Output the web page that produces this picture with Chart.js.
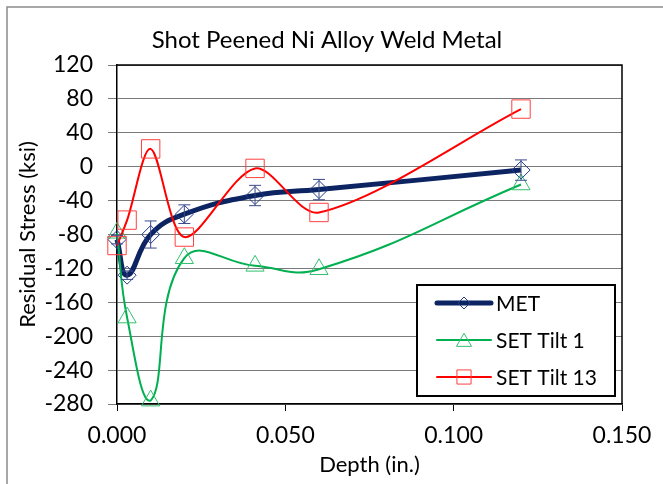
<!DOCTYPE html>
<html>
<head>
<meta charset="utf-8">
<script src="https://cdn.jsdelivr.net/npm/chart.js@4/dist/chart.umd.min.js"></script>
<style>
  html, body { margin: 0; padding: 0; background: #fff; }
  #wrap { position: relative; width: 663px; height: 484px; }
</style>
</head>
<body>
<div id="wrap"><canvas id="stressChart" width="663" height="484"></canvas></div>
<script>
// data
const depth = [0.000, 0.003, 0.010, 0.020, 0.041, 0.060, 0.120];
const met = [-86, -128, -80, -56, -34, -27, -4];
const metErr = [5, 5, 16, 11, 12, 12, 12];
const setTilt1 = [-78, -178, -276, -108, -117, -121, -21];
const setTilt13 = [-93, -63, 21, -83, -2, -54, 68];
const seriesNames = ['MET', 'SET Tilt 1', 'SET Tilt 13'];
const yTicks = [120, 80, 40, 0, -40, -80, -120, -160, -200, -240, -280];
const xTicks = [0.000, 0.050, 0.100, 0.150];

const FONT = 'Lato, "Liberation Sans", sans-serif';

function toPoints(ys) {
    return depth.map((d, i) => ({ x: d, y: ys[i] }));
}

// frame and border of plot area
const framePlugin = {
    id: 'frame',
    beforeDraw(chart) {
        const ctx = chart.ctx;
        ctx.save();
        ctx.strokeStyle = '#8c8c8c';
        ctx.lineWidth = 1.5;
        ctx.beginPath();
        ctx.moveTo(7, 490);
        ctx.lineTo(7, 7);
        ctx.lineTo(670, 7);
        ctx.stroke();
        ctx.restore();
    },
    afterDraw(chart) {
        const a = chart.chartArea;
        const ctx = chart.ctx;
        ctx.save();
        ctx.strokeStyle = '#000';
        ctx.lineWidth = 1.5;
        ctx.beginPath();
        ctx.moveTo(a.left, a.top);
        ctx.lineTo(a.right, a.top);
        ctx.lineTo(a.right, a.bottom);
        ctx.stroke();
        ctx.restore();
    }
};

// chart title, placed left of centre like in the original
const titlePlugin = {
    id: 'titleText',
    afterDraw(chart, args, opts) {
        const ctx = chart.ctx;
        ctx.save();
        ctx.font = '24px ' + FONT;
        ctx.fillStyle = '#000';
        ctx.textAlign = 'center';
        ctx.textBaseline = 'middle';
        ctx.fillText(opts.text, opts.x, opts.y);
        ctx.restore();
    }
};

// y error bars on MET
const errorBarPlugin = {
    id: 'errorBars',
    afterDatasetsDraw(chart) {
        const xs = chart.scales.x, ys = chart.scales.y;
        const ctx = chart.ctx;
        ctx.save();
        ctx.strokeStyle = '#3a4a8c';
        ctx.lineWidth = 1;
        depth.forEach((d, i) => {
            const x = xs.getPixelForValue(d);
            const y1 = ys.getPixelForValue(met[i] + metErr[i]);
            const y2 = ys.getPixelForValue(met[i] - metErr[i]);
            ctx.beginPath();
            ctx.moveTo(x, y1); ctx.lineTo(x, y2);
            ctx.moveTo(x - 6, y1); ctx.lineTo(x + 6, y1);
            ctx.moveTo(x - 6, y2); ctx.lineTo(x + 6, y2);
            ctx.stroke();
        });
        ctx.restore();
    }
};

function drawMarker(ctx, style, x, y, r) {
    ctx.beginPath();
    if (style === 'rectRot') {
        ctx.moveTo(x - r, y); ctx.lineTo(x, y - r); ctx.lineTo(x + r, y); ctx.lineTo(x, y + r);
    } else if (style === 'triangle') {
        ctx.moveTo(x, y - r);
        ctx.lineTo(x + r * 0.866, y + r / 2);
        ctx.lineTo(x - r * 0.866, y + r / 2);
    } else {
        const s = r * Math.SQRT1_2;
        ctx.rect(x - s, y - s, 2 * s, 2 * s);
    }
    ctx.closePath();
    ctx.stroke();
}

// legend box inside the plot area
const legendPlugin = {
    id: 'boxLegend',
    afterDraw(chart, args, opts) {
        const ctx = chart.ctx;
        ctx.save();
        ctx.fillStyle = '#fff';
        ctx.fillRect(opts.x, opts.y, opts.w, opts.h);
        ctx.strokeStyle = '#000';
        ctx.lineWidth = 2;
        ctx.strokeRect(opts.x, opts.y, opts.w, opts.h);
        ctx.font = '21px ' + FONT;
        ctx.textBaseline = 'middle';
        ctx.textAlign = 'left';
        chart.data.datasets.forEach((ds, i) => {
            const y = opts.y + 18 + i * 37;
            const x0 = opts.x + 20;
            ctx.strokeStyle = ds.borderColor;
            ctx.lineWidth = ds.borderWidth;
            ctx.lineCap = 'round';
            ctx.beginPath();
            ctx.moveTo(x0, y); ctx.lineTo(x0 + 54, y);
            ctx.stroke();
            ctx.lineCap = 'butt';
            ctx.fillStyle = '#fff';
            ctx.strokeStyle = ds.pointBorderColor;
            ctx.lineWidth = 1;
            drawMarker(ctx, ds.pointStyle, x0 + 27, y + (ds.pointStyle === 'triangle' ? 2 : 0), opts.markerSize[i]);
            ctx.fillStyle = '#000';
            ctx.fillText(ds.label, x0 + 59, y + 1);
        });
        ctx.restore();
    }
};

new Chart(document.getElementById('stressChart'), {
    type: 'scatter',
    data: {
        datasets: [
            {
                label: seriesNames[0],
                data: toPoints(met),
                showLine: true,
                tension: 0.45,
                borderColor: '#0c2461',
                borderWidth: 5,
                pointStyle: 'rectRot',
                pointRadius: 9,
                pointBorderColor: '#1f3a8a',
                pointBackgroundColor: 'rgba(0,0,0,0)',
                pointBorderWidth: 1,
                clip: false,
                order: 3
            },
            {
                label: seriesNames[1],
                data: toPoints(setTilt1),
                showLine: true,
                tension: 0.45,
                borderColor: '#00b050',
                borderWidth: 2,
                pointStyle: 'triangle',
                pointRadius: 10.5,
                pointBorderColor: '#33c070',
                pointBackgroundColor: 'rgba(0,0,0,0)',
                pointBorderWidth: 1,
                clip: false,
                order: 2
            },
            {
                label: seriesNames[2],
                data: toPoints(setTilt13),
                showLine: true,
                tension: 0.3,
                borderColor: '#ff0000',
                borderWidth: 2,
                pointStyle: 'rect',
                pointRadius: 13,
                pointBorderColor: '#ff4040',
                pointBackgroundColor: 'rgba(0,0,0,0)',
                pointBorderWidth: 1,
                clip: false,
                order: 1
            }
        ]
    },
    options: {
        responsive: false,
        animation: false,
        events: [],
        layout: { padding: { left: 8, top: 65, right: 41, bottom: 0 } },
        scales: {
            x: {
                type: 'linear',
                min: 0,
                max: 0.15,
                afterBuildTicks: s => { s.ticks = xTicks.map(v => ({ value: v })); },
                afterFit: s => { s.height = 80; },
                ticks: {
                    font: { family: FONT, size: 23 },
                    color: '#000',
                    padding: 11,
                    maxRotation: 0,
                    callback: v => v.toFixed(3)
                },
                grid: { drawOnChartArea: false, drawTicks: true, tickLength: 7, color: '#000' },
                border: { color: '#000', width: 1.5 },
                title: {
                    display: true,
                    text: 'Depth (in.)',
                    font: { family: FONT, size: 22 },
                    color: '#000',
                    padding: { top: 0, bottom: 6 }
                }
            },
            y: {
                min: -280,
                max: 120,
                afterBuildTicks: s => { s.ticks = yTicks.map(v => ({ value: v })); },
                afterFit: s => { s.width = 109; },
                ticks: {
                    font: { family: FONT, size: 23 },
                    color: '#000',
                    padding: 15
                },
                grid: { color: '#7a7a7a', lineWidth: 1, tickLength: 9 },
                border: { color: '#000', width: 1.5 },
                title: {
                    display: true,
                    text: 'Residual Stress (ksi)',
                    font: { family: FONT, size: 22 },
                    color: '#000',
                    padding: { top: 7, bottom: 0 }
                }
            }
        },
        plugins: {
            legend: { display: false },
            tooltip: { enabled: false },
            titleText: { text: 'Shot Peened Ni Alloy Weld Metal', x: 327, y: 40 },
            boxLegend: { x: 417, y: 285, w: 198, h: 111, markerSize: [6, 8.7, 10] }
        }
    },
    plugins: [framePlugin, titlePlugin, errorBarPlugin, legendPlugin]
});
</script>
</body>
</html>
